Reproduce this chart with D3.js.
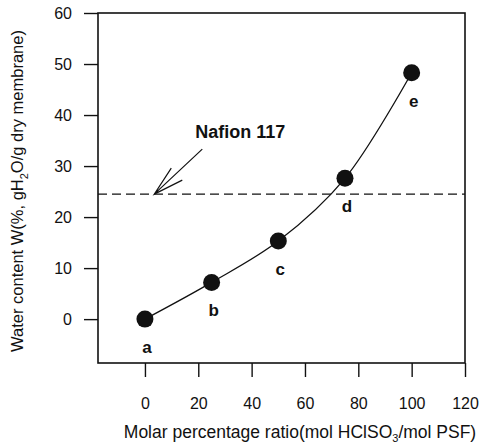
<!DOCTYPE html>
<html>
<head>
<meta charset="UTF-8">
<script src="https://d3js.org/d3.v7.min.js"></script>
<style>
  body { margin: 0; background: #fff; }
  svg text { font-family: "Liberation Sans", Arial, sans-serif; fill: #111; }
</style>
</head>
<body>
<div id="chart"></div>
<script>
// data
var ratio = [0, 25, 50, 75, 100];
var water = [0, 7.2, 15.3, 27.6, 48.3];
var pointNames = ["a", "b", "c", "d", "e"];
var nafionValue = 24.5;
var xTicks = [0, 20, 40, 60, 80, 100, 120];
var yTicks = [0, 10, 20, 30, 40, 50, 60];

var width = 489, height = 448;
var plot = {left: 98, right: 465, top: 13, bottom: 363};

var x = d3.scaleLinear().domain([-17.6, 120]).range([plot.left, plot.right]);
var y = d3.scaleLinear().domain([-8.6, 60]).range([plot.bottom, plot.top]);

var svg = d3.select("#chart").append("svg")
  .attr("width", width).attr("height", height);

// frame
svg.append("rect")
  .attr("x", plot.left).attr("y", plot.top)
  .attr("width", plot.right - plot.left).attr("height", plot.bottom - plot.top)
  .attr("fill", "none").attr("stroke", "#111").attr("stroke-width", 1.6);

// axes
var xAxis = svg.append("g")
  .attr("transform", "translate(0," + plot.bottom + ")")
  .call(d3.axisBottom(x).tickValues(xTicks).tickSize(14).tickPadding(21));
var yAxis = svg.append("g")
  .attr("transform", "translate(" + plot.left + ",0)")
  .call(d3.axisLeft(y).tickValues(yTicks).tickSize(14).tickPadding(12));
[xAxis, yAxis].forEach(function(g) {
  g.select(".domain").remove();
  g.selectAll("line").attr("stroke", "#111").attr("stroke-width", 1.4);
  g.selectAll("text").style("font-size", "16px").attr("fill", "#111");
});

// Nafion 117 dashed reference
svg.append("line")
  .attr("x1", plot.left).attr("x2", plot.right)
  .attr("y1", y(nafionValue)).attr("y2", y(nafionValue))
  .attr("stroke", "#111").attr("stroke-width", 1.1)
  .attr("stroke-dasharray", "9,5");

var tipX = x(3.5), tipY = y(nafionValue);
svg.append("path")
  .attr("d", "M" + (tipX + 48) + "," + (tipY - 45) + "L" + tipX + "," + tipY +
    "M" + (tipX + 17) + "," + (tipY - 26) + "L" + tipX + "," + tipY +
    "L" + (tipX + 28) + "," + (tipY - 14))
  .attr("fill", "none").attr("stroke", "#111").attr("stroke-width", 1.2);
svg.append("text")
  .attr("x", tipX + 41).attr("y", tipY - 56)
  .style("font-size", "18px").style("font-weight", "bold")
  .text("Nafion 117");

// curve
var pts = ratio.map(function(r, i) { return [r, water[i]]; });
var line = d3.line()
  .x(function(d) { return x(d[0]); })
  .y(function(d) { return y(d[1]); })
  .curve(d3.curveCatmullRom.alpha(0.5));
svg.append("path")
  .attr("d", line(pts))
  .attr("fill", "none").attr("stroke", "#111").attr("stroke-width", 1.3);

svg.selectAll("circle.pt").data(pts).enter().append("circle")
  .attr("class", "pt")
  .attr("cx", function(d) { return x(d[0]); })
  .attr("cy", function(d) { return y(d[1]); })
  .attr("r", 8.5).attr("fill", "#111");

svg.selectAll("text.lab").data(pts).enter().append("text")
  .attr("class", "lab")
  .attr("x", function(d) { return x(d[0]) + 2; })
  .attr("y", function(d) { return y(d[1]) + 34; })
  .attr("text-anchor", "middle")
  .style("font-size", "17px").style("font-weight", "bold")
  .text(function(d, i) { return pointNames[i]; });

// axis titles
var xt = svg.append("text")
  .attr("x", (122 + 478) / 2).attr("y", 438)
  .attr("text-anchor", "middle")
  .style("font-size", "17.5px");
xt.append("tspan").text("Molar percentage ratio(mol HClSO");
xt.append("tspan").attr("dy", 4).style("font-size", "11px").text("3");
xt.append("tspan").attr("dy", -4).text("/mol PSF)");

var yt = svg.append("text")
  .attr("transform", "translate(23," + 191 + ") rotate(-90)")
  .attr("text-anchor", "middle")
  .style("font-size", "16.5px");
yt.append("tspan").text("Water content W(%, gH");
yt.append("tspan").attr("dy", 5).style("font-size", "11px").text("2");
yt.append("tspan").attr("dy", -5).text("O/g dry membrane)");
</script>
</body>
</html>
